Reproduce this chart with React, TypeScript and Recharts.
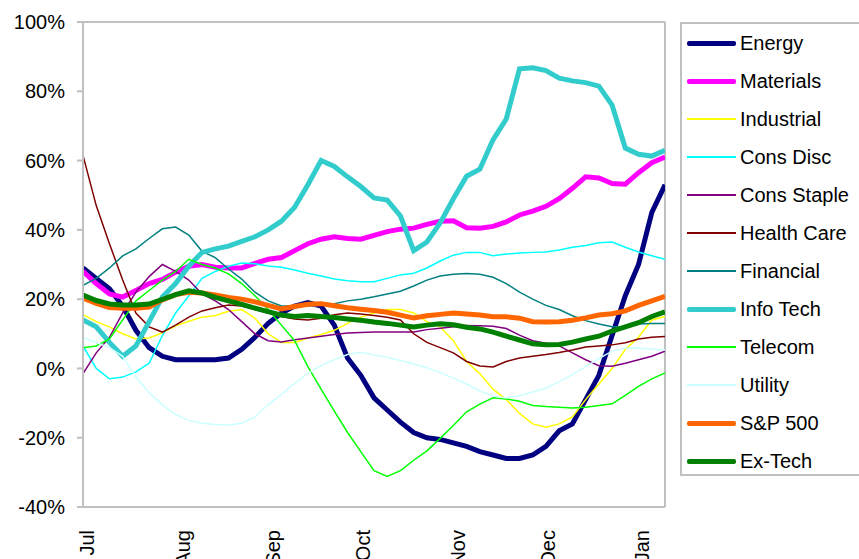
import { LineChart, Line, XAxis, YAxis, Legend, ReferenceLine } from "recharts";

// trading-day index of each sample (Jul .. mid Jan)
const days = [0, 3, 6, 9, 12, 15, 18, 21, 24, 27, 30, 33, 36, 39, 42, 45, 48, 51, 54, 57, 60, 63, 66, 69, 72, 75, 78, 81, 84, 87, 90, 93, 96, 99, 102, 105, 108, 111, 114, 117, 120, 123, 126, 129, 132];

const monthTicks = [1, 22.7, 43.1, 63.5, 85, 105.4, 126.7];
const monthLabels = ["Jul", "Aug", "Sep", "Oct", "Nov", "Dec", "Jan"];
const yTicks = [-40, -20, 0, 20, 40, 60, 80, 100];

const energy = [29, 26, 23, 18, 11, 6, 3.5, 2.5, 2.5, 2.5, 2.5, 3, 5.5, 9, 13, 16, 18, 19, 18, 12.5, 3, -2, -8.5, -12, -15.5, -18.5, -20, -20.5, -21.5, -22.5, -24, -25, -26, -26, -25, -22.5, -18, -16, -9, -2, 9.5, 21, 30, 45, 53];
const materials = [28, 24.5, 21.5, 20.6, 22.5, 24.5, 25.7, 27.8, 29.5, 30, 29.2, 29, 29, 30.3, 31.5, 32, 34, 36, 37.3, 38, 37.5, 37.3, 38.4, 39.5, 40.2, 40.5, 41.6, 42.5, 42.6, 40.6, 40.5, 41, 42.3, 44.3, 45.4, 46.8, 49, 52, 55.3, 55, 53.4, 53.2, 56.5, 59.4, 61];
const industrial = [15.5, 13.5, 12, 10, 8.5, 8.8, 10.3, 12.3, 13.6, 14.8, 15.3, 16.5, 17, 14.5, 10, 7.5, 7.5, 8.8, 9.8, 11, 13, 14.8, 16, 17, 17, 16, 13.5, 12, 8, 2, -1.5, -6, -9, -13, -16, -17, -16, -14, -9, -4.5, 0, 5.5, 9, 14, 15];
const consDisc = [6.5, 0, -3, -2.5, -1, 1.5, 9.5, 16, 21, 26, 28, 29.5, 30.4, 30.2, 29.6, 29.2, 28.4, 27.5, 26.7, 25.8, 25.3, 25, 25, 26, 27, 27.5, 29, 31, 32.7, 33.5, 33.5, 32.5, 33, 33.3, 33.5, 33.6, 34.2, 35, 35.5, 36.3, 36.5, 35, 33.6, 32.5, 31.5];
const consStaple = [-1.5, 4.5, 9, 16, 22, 26.5, 30, 28, 25.5, 21.5, 19.5, 17, 13.5, 10, 8, 7.6, 8.3, 8.8, 9.3, 9.8, 10.2, 10.4, 10.5, 10.5, 10.5, 10.5, 11.2, 11.6, 12, 12.4, 12.3, 12.2, 11.5, 9.6, 8, 7.3, 6.5, 4.5, 2.5, 0.8, 0.6, 1.5, 2.5, 3.5, 5];
const healthCare = [61.5, 47, 36, 25.5, 16, 12, 10.5, 12.5, 14.8, 16.6, 17.5, 18.3, 18, 17, 16, 15, 14.3, 14, 14.5, 15.5, 16, 15.7, 15.3, 14.8, 14, 10, 7.5, 6, 4.5, 2, 0.7, 0.4, 2, 3, 3.5, 4, 4.6, 5.3, 6.2, 6.5, 6.8, 7.4, 8.5, 9, 9.2];
const financial = [24, 26, 29, 32.5, 34.5, 37.5, 40.3, 40.8, 38.5, 33.8, 32, 28.7, 25.8, 22, 19.5, 18, 18, 18, 18.3, 18.7, 19.5, 20, 20.7, 21.5, 22.3, 23.8, 25.5, 26.7, 27.2, 27.4, 27.2, 26.3, 24.5, 22, 20, 18.2, 17, 15.2, 13.8, 12.8, 12, 12, 12.8, 13, 13];
const infoTech = [14, 12, 7.5, 3.5, 6.5, 13.5, 20.6, 24.5, 29.5, 33.5, 34.5, 35.3, 36.7, 38, 40, 42.5, 46.5, 53, 60, 58.3, 55.3, 52.5, 49.2, 48.6, 44, 34, 36.5, 42, 49, 55.5, 57.5, 66, 72, 86.5, 86.8, 86, 83.8, 83, 82.5, 81.5, 76, 63.6, 61.8, 61.3, 63];
const telecom = [6, 6.5, 8.5, 14, 19.5, 22.5, 25.5, 28, 31.5, 30, 29, 27.3, 24.5, 21, 17, 12.5, 8, 0.5, -6, -12.3, -18.5, -24, -29.5, -31.2, -29.5, -26.5, -23.8, -20.2, -16.5, -12.5, -10.3, -8.5, -8.8, -9.5, -10.7, -11, -11.2, -11.4, -11.2, -10.7, -10.2, -7.8, -5.2, -3, -1.3];
const utility = [9, 7.5, 6, 3.5, -2.5, -7, -10.5, -13.3, -15, -15.8, -16.2, -16.3, -15.8, -14, -10.5, -7.5, -4.3, -1.4, 0.8, 2.5, 4, 4.7, 3.9, 3.2, 2.3, 1.3, 0.2, -1.2, -2.8, -4.5, -6.5, -8, -8.5, -7.9, -6.8, -5.7, -3.8, -1.8, 0.5, 2.8, 5, 5.8, 5.9, 5.6, 5.3];
const sp500 = [20.3, 18.8, 17.6, 17.4, 17.4, 17.7, 19.8, 21.3, 22, 21.8, 21.2, 20.5, 20, 19.2, 18.2, 17.2, 17.9, 18.5, 18.7, 18.1, 17.5, 17.1, 16.7, 16.2, 15.4, 14.6, 15.2, 15.6, 16, 15.7, 15.4, 14.9, 14.9, 14.5, 13.5, 13.4, 13.5, 13.9, 14.6, 15.4, 15.8, 16.6, 18.2, 19.5, 20.8];
const exTech = [21.2, 19.6, 18.6, 18.3, 18.3, 18.6, 19.9, 21.3, 22.4, 21.8, 20.5, 19.5, 18.5, 17.4, 16.4, 15.4, 15, 15.3, 15, 14.7, 14.3, 13.9, 13.4, 13, 12.5, 12, 12.5, 12.9, 12.6, 11.9, 11.4, 10.5, 9.3, 8.2, 7.1, 6.8, 6.9, 7.6, 8.5, 9.3, 10.8, 12, 13.2, 15, 16.3];

const series = [
  { key: "energy", name: "Energy", color: "#000080", width: 5, values: energy },
  { key: "materials", name: "Materials", color: "#FF00FF", width: 5, values: materials },
  { key: "industrial", name: "Industrial", color: "#FFFF00", width: 1.5, values: industrial },
  { key: "consDisc", name: "Cons Disc", color: "#00FFFF", width: 1.5, values: consDisc },
  { key: "consStaple", name: "Cons Staple", color: "#800080", width: 1.5, values: consStaple },
  { key: "healthCare", name: "Health Care", color: "#800000", width: 1.5, values: healthCare },
  { key: "financial", name: "Financial", color: "#008080", width: 1.5, values: financial },
  { key: "infoTech", name: "Info Tech", color: "#33CCCC", width: 5, values: infoTech },
  { key: "telecom", name: "Telecom", color: "#00FF00", width: 1.5, values: telecom },
  { key: "utility", name: "Utility", color: "#CCFFFF", width: 1.5, values: utility },
  { key: "sp500", name: "S&P 500", color: "#FF6600", width: 5, values: sp500 },
  { key: "exTech", name: "Ex-Tech", color: "#008000", width: 5, values: exTech },
];

const data = days.map((d, i) => {
  const row: Record<string, number> = { d };
  series.forEach((s) => { row[s.key] = s.values[i]; });
  return row;
});

const font = "'Liberation Sans', Arial, sans-serif";
const gray = "#C0C0C0";

// eslint-disable-next-line @typescript-eslint/no-explicit-any
function MonthTick({ x, y, payload }: any) {
  const idx = monthTicks.indexOf(payload.value);
  return (
    <text
      x={x}
      y={y + 15}
      transform={`rotate(-90 ${x} ${y + 15})`}
      textAnchor="end"
      dy="0.35em"
      fontSize={20}
      fontFamily={font}
      fill="#000"
    >
      {monthLabels[idx]}
    </text>
  );
}

function LegendBox() {
  return (
    <div
      style={{
        border: `2px solid ${gray}`,
        background: "#fff",
        width: 185,
        height: 454,
        boxSizing: "border-box",
        paddingTop: 0,
        fontFamily: font,
        fontSize: 20,
        color: "#000",
      }}
    >
      {series.map((s) => (
        <div key={s.key} style={{ height: 38, display: "flex", alignItems: "center" }}>
          <div style={{ marginLeft: 5, width: 49, height: s.width, background: s.color, borderRadius: s.width > 2 ? 2 : 0 }} />
          <span style={{ marginLeft: 4, whiteSpace: "nowrap" }}>{s.name}</span>
        </div>
      ))}
    </div>
  );
}

export default function App() {
  return (
    <div style={{ position: "absolute", left: 0, top: 0, width: 859, height: 559, overflow: "hidden", background: "#fff" }}>
      <LineChart width={859} height={559} data={data} margin={{ top: 22, right: 194, bottom: 0, left: 23 }}>
        <XAxis
          dataKey="d"
          type="number"
          domain={[0, 132]}
          ticks={monthTicks}
          interval={0}
          tick={<MonthTick />}
          tickLine={false}
          axisLine={{ stroke: gray, strokeWidth: 2 }}
          height={52}
          allowDataOverflow
        />
        <YAxis
          type="number"
          domain={[-40, 100]}
          ticks={yTicks}
          interval={0}
          tickFormatter={(v: number) => `${v}%`}
          tick={{ fontSize: 20, fontFamily: font, fill: "#000" }}
          tickLine={{ stroke: gray, strokeWidth: 2 }}
          tickSize={6}
          tickMargin={12}
          axisLine={{ stroke: gray, strokeWidth: 2 }}
          width={60}
          allowDataOverflow
        />
        <ReferenceLine y={100} stroke={gray} strokeWidth={2} />
        <ReferenceLine x={132} stroke={gray} strokeWidth={2} />
        {series.map((s) => (
          <Line
            key={s.key}
            type="linear"
            dataKey={s.key}
            name={s.name}
            stroke={s.color}
            strokeWidth={s.width}
            dot={false}
            activeDot={false}
            isAnimationActive={false}
          />
        ))}
        <Legend
          layout="vertical"
          align="center"
          verticalAlign="middle"
          content={<LegendBox />}
          wrapperStyle={{ left: 680, top: 22, width: 185, height: 454 }}
        />
      </LineChart>
    </div>
  );
}
